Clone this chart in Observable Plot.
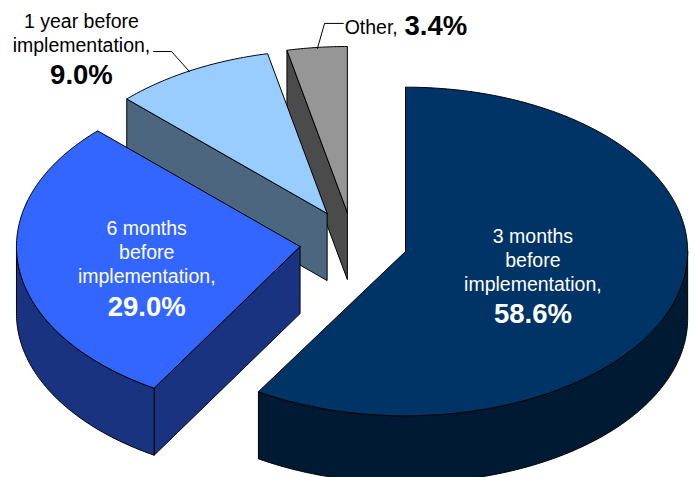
<!DOCTYPE html>
<html>
<head>
<meta charset="utf-8">
<style>html,body{margin:0;padding:0;background:#fff}svg{display:block}</style>
<script src="https://cdn.jsdelivr.net/npm/d3@7"></script>
<script src="https://cdn.jsdelivr.net/npm/@observablehq/plot@0.6"></script>
</head>
<body>
<script>
const names = ["3 months before implementation", "6 months before implementation", "1 year before implementation", "Other"];
const shares = [58.6, 29.0, 9.0, 3.4];
const topColors = ["#003366", "#3366ff", "#99ccff", "#969696"];
const wallColors = ["#001a33", "#1a3380", "#4d6680", "#4b4b4b"];
const explodeX = [0, -0.37, -0.275, -0.204];
const explodeY = [0.006, 0.036, 0.235, 0.241];
const radii = [0.99, 0.995, 0.985, 1];
const startNudge = [0, 0, -0.0157, 0];
const endNudge = [0.008, -0.0157, 0, 0];
const depth = 0.404;

const tau = 2 * Math.PI;
let running = 0;
const slices = shares.map((v, i) => {
  const a0 = running / 100 * tau + startNudge[i];
  running += v;
  return {name: names[i], first: i === 0, a0, a1: running / 100 * tau + endNudge[i], cx: explodeX[i], cy: explodeY[i], r: radii[i], top: topColors[i], wall: wallColors[i]};
});
const pt = (s, a, down = 0) => ({x: s.cx + s.r * Math.sin(a), y: s.cy + s.r * Math.cos(a) - down});
const arc = (s, a0, a1, down = 0) => {
  const n = Math.max(2, Math.ceil(Math.abs(a1 - a0) / 0.01));
  return d3.range(n + 1).map((k) => pt(s, a0 + (a1 - a0) * k / n, down));
};
const closed = (p) => [...p, p[0]];
const apex = (s, down = 0) => ({x: s.cx, y: s.cy - down});
const poly = (p, fill) => Plot.line(closed(p), {x: "x", y: "y", fill, stroke: "#000", strokeWidth: 1, strokeLinejoin: "round"});

function sliceMarks(s) {
  const m = [];
  // cut face toward the viewer
  if (!s.first) {
    m.push(poly([apex(s), pt(s, s.a0), pt(s, s.a0, depth), apex(s, depth)], s.wall));
  }
  // outer wall, lower half of the rim only
  const w0 = Math.max(s.a0, tau / 4), w1 = Math.min(s.a1, 3 * tau / 4);
  if (w1 > w0) {
    m.push(poly([...arc(s, w0, w1), ...arc(s, w1, w0, depth)], s.wall));
  }
  m.push(poly([apex(s), ...arc(s, s.a0, s.a1)], s.top));
  return m;
}

const font = "Liberation Sans, Arial, sans-serif";
const regular = {fontFamily: font, fontSize: 19.5, lineHeight: 1.23, textAnchor: "middle", lineAnchor: "middle"};
const bold = {fontFamily: font, fontSize: 27.5, fontWeight: "bold", textAnchor: "middle", lineAnchor: "middle"};
const txt = (t, x, y, o) => Plot.text([t], {x: () => x, y: () => y, text: (d) => d, ...o});
const leader = (xs, ys) => Plot.line(xs.map((x, i) => ({x, y: ys[i]})), {x: "x", y: "y", stroke: "#000", strokeWidth: 1});

const plot = Plot.plot({
  width: 695,
  height: 477,
  margin: 0,
  x: {axis: null, type: "linear", domain: [-405 / 285, 290 / 285], range: [0, 695]},
  y: {axis: null, type: "linear", domain: [252 / 166, -225 / 166], range: [0, 477]},
  style: {background: "#fff"},
  marks: [
    ...[3, 2, 1, 0].flatMap((i) => sliceMarks(slices[i])),
    leader([-0.884, -0.821, -0.758], [1.211, 1.211, 1.09]),
    leader([-0.218, -0.284, -0.309], [1.38, 1.38, 1.229]),
    txt("3 months\nbefore\nimplementation,", 0.447, -0.042, {...regular, fill: "#fff"}),
    txt(shares[0].toFixed(1) + "%", 0.447, -0.373, {...bold, fill: "#fff"}),
    txt("6 months\nbefore\nimplementation,", -0.908, 0.006, {...regular, fill: "#fff"}),
    txt(shares[1].toFixed(1) + "%", -0.908, -0.331, {...bold, fill: "#fff"}),
    txt("1 year before\nimplementation,", -1.137, 1.326, {...regular, fill: "#000"}),
    txt(shares[2].toFixed(1) + "%", -1.137, 1.066, {...bold, fill: "#000"}),
    txt("Other,", -0.2135, 1.361, {...regular, textAnchor: "start", fill: "#000"}),
    txt(shares[3].toFixed(1) + "%", -0.0035, 1.361, {...bold, textAnchor: "start", fill: "#000"})
  ]
});
document.body.appendChild(plot);
</script>
</body>
</html>
